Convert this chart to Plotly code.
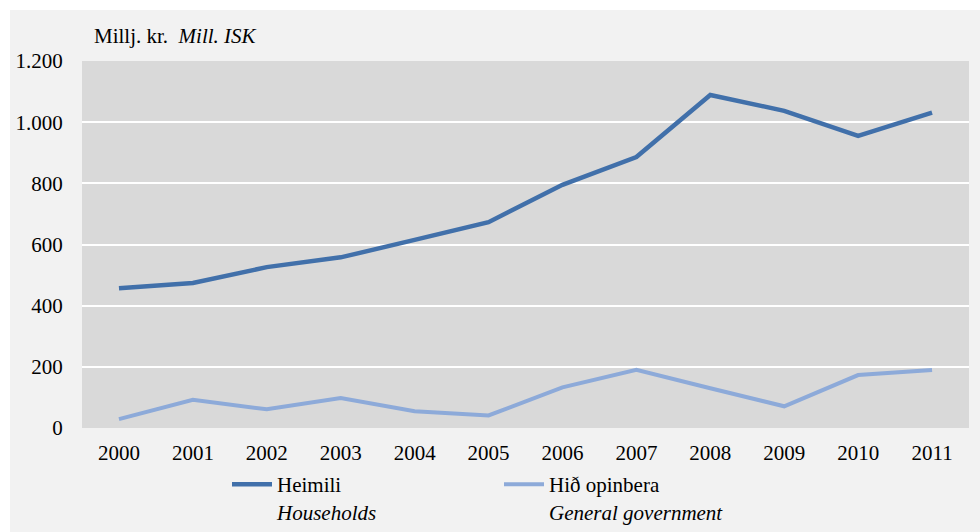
import plotly.graph_objects as go

years = ["2000", "2001", "2002", "2003", "2004", "2005", "2006", "2007", "2008", "2009", "2010", "2011"]
heimili = [457, 474, 526, 558, 615, 673, 795, 886, 1089, 1037, 955, 1031]
opinbera = [29, 92, 61, 98, 55, 41, 133, 190, 130, 71, 173, 190]
ytick_vals = [0, 200, 400, 600, 800, 1000, 1200]
ytick_text = ["0", "200", "400", "600", "800", "1.000", "1.200"]
name_heimili = "Heimili<br><i>Households</i>"
name_opinbera = "Hið opinbera<br><i>General government</i>"

FONT = "Liberation Serif"
FS = 21
W, H = 980, 532
L, R, T, B = 82, 11, 61, 104
pw, ph = W - L - R, H - T - B

def px_x(p):
    return (p - L) / pw

def px_y(p):
    return (H - B - p) / ph

fig = go.Figure()
fig.add_trace(go.Scatter(x=years, y=heimili, mode="lines", name=name_heimili,
                         line=dict(color="#4170AA", width=4.5)))
fig.add_trace(go.Scatter(x=years, y=opinbera, mode="lines", name=name_opinbera,
                         line=dict(color="#8DAAD9", width=4)))

fig.update_layout(
    width=W, height=H,
    margin=dict(l=L, r=R, t=T, b=B, pad=0, autoexpand=False),
    paper_bgcolor="white",
    plot_bgcolor="rgba(0,0,0,0)",
    font=dict(family=FONT, size=FS, color="black"),
    showlegend=True,
    legend=dict(orientation="h", x=px_x(227), xanchor="left",
                yref="container", y=1 - 464 / H, yanchor="top",
                bgcolor="rgba(0,0,0,0)", entrywidth=217, entrywidthmode="pixels",
                valign="top", font=dict(family=FONT, size=FS), traceorder="normal",
                itemwidth=40, tracegroupgap=0),
    shapes=[
        dict(type="rect", xref="paper", yref="paper", x0=px_x(10), x1=px_x(W + 5),
             y0=px_y(H + 5), y1=px_y(10), fillcolor="#F2F2F2", line=dict(width=0), layer="below"),
        dict(type="rect", xref="paper", yref="paper", x0=0, x1=1, y0=0, y1=1,
             fillcolor="#D9D9D9", line=dict(width=0), layer="below"),
    ],
    annotations=[
        dict(text="Millj. kr.  <i>Mill. ISK</i>", xref="paper", yref="paper",
             x=px_x(92), y=px_y(36), xanchor="left", yanchor="middle", showarrow=False,
             font=dict(family=FONT, size=FS)),
    ],
)
fig.update_xaxes(type="category", range=[-0.5, 11.5], showgrid=False, zeroline=False,
                 showline=False, ticks="outside", ticklen=6, tickcolor="rgba(0,0,0,0)",
                 tickfont=dict(family=FONT, size=FS))
fig.update_yaxes(range=[0, 1200], tickvals=ytick_vals, ticktext=ytick_text,
                 showgrid=True, gridcolor="white", gridwidth=2, zeroline=False,
                 showline=False, ticks="outside", ticklen=14, tickcolor="rgba(0,0,0,0)",
                 tickfont=dict(family=FONT, size=FS))

fig.write_html("out.html", config={"displayModeBar": False},
               post_script="document.body.style.margin='0';")
